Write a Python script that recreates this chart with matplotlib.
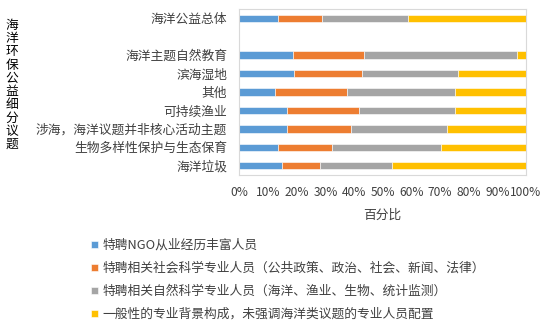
import matplotlib
matplotlib.use("Agg")
import matplotlib.pyplot as plt
import numpy as np

plt.rcParams['font.family'] = ['Noto Sans CJK SC', 'DejaVu Sans']

categories = ['海洋公益总体', '海洋主题自然教育', '滨海湿地', '其他', '可持续渔业',
              '涉海，海洋议题并非核心活动主题', '生物多样性保护与生态保育', '海洋垃圾']
slots = [0, 2, 3, 4, 5, 6, 7, 8]

ngo = [13.5, 18.8, 19.0, 12.4, 16.7, 16.7, 13.4, 14.8]
social = [15.2, 24.8, 23.8, 25.0, 24.9, 22.2, 18.9, 13.3]
natural = [30.2, 53.4, 33.6, 37.7, 33.5, 33.5, 38.1, 25.2]
general = [41.1, 3.0, 23.6, 24.9, 24.9, 27.6, 29.6, 46.7]

series_names = ['特聘NGO从业经历丰富人员',
                '特聘相关社会科学专业人员（公共政策、政治、社会、新闻、法律）',
                '特聘相关自然科学专业人员（海洋、渔业、生物、统计监测）',
                '一般性的专业背景构成，未强调海洋类议题的专业人员配置']
colors = ['#5B9BD5', '#ED7D31', '#A5A5A5', '#FFC000']

xticks = [0, 10, 20, 30, 40, 50, 60, 70, 80, 90, 100]
xticklabels = [f'{t}%' for t in xticks]

fig = plt.figure(figsize=(5.5, 3.26), dpi=100)
ax = fig.add_axes([239.5/550, 1-175/326, 286.5/550, 166/326])

data = [ngo, social, natural, general]
left = np.zeros(len(categories))
handles = []
for vals, c, name in zip(data, colors, series_names):
    vals = np.array(vals)
    b = ax.barh(slots, vals, left=left, height=0.4, color=c, edgecolor='white',
                linewidth=0.4, label=name)
    handles.append(b)
    left = left + vals

fs = 9.2
ax.set_xlim(0, 100)
ax.set_ylim(8.5, -0.5)
ax.set_yticks(slots)
ax.set_yticklabels(categories, fontsize=fs, color='#404040')
ax.set_xticks(xticks)
ax.set_xticklabels(xticklabels, fontsize=8.6, color='#404040')
ax.tick_params(axis='y', length=0, pad=9)
ax.tick_params(axis='x', length=0, pad=8)
for s in ax.spines.values():
    s.set_color('#D9D9D9')
    s.set_linewidth(0.8)

ax.set_xlabel('百分比', fontsize=fs, color='#404040', labelpad=7)

ylabel = '海洋环保公益细分议题'
fig.text(12/550, 1-85/326, '\n'.join(ylabel), fontsize=fs, color='#000000',
         ha='center', va='center', linespacing=1.02)

fig.legend(handles=handles, labels=series_names, loc='center left',
           bbox_to_anchor=(85/550, 1-280/326), frameon=False, fontsize=fs,
           handlelength=0.55, handleheight=0.55, handletextpad=0.35,
           labelspacing=0.78, labelcolor='#404040', borderpad=0)

fig.savefig('out.png', dpi=100)
